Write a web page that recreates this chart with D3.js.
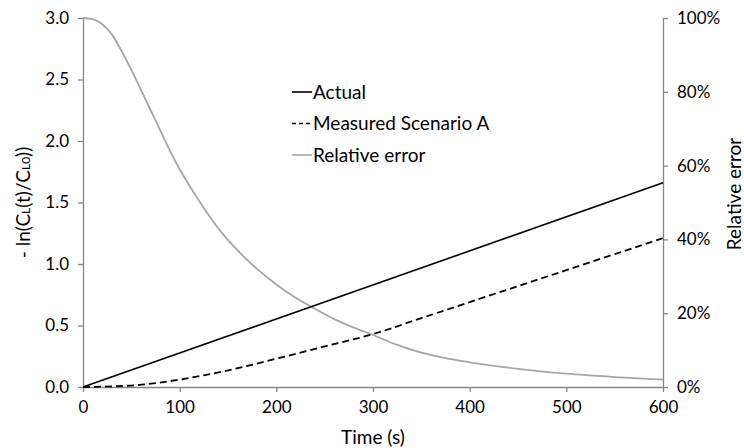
<!DOCTYPE html>
<html>
<head>
<meta charset="utf-8">
<script src="https://cdn.jsdelivr.net/npm/d3@7"></script>
<style>
  body { margin: 0; background: #fff; }
  text { font-family: Lato, "Open Sans", sans-serif; fill: #000; }
</style>
</head>
<body>
<svg id="chart" width="744" height="448"></svg>
<script>
// data
const actualTime = [0, 600];
const actualValue = [0, 1.66];

const measuredTime = [0, 50, 100, 150, 200, 250, 300, 350, 400, 450, 500, 550, 600];
const measuredValue = [0, 0.012, 0.06, 0.135, 0.23, 0.33, 0.43, 0.56, 0.69, 0.82, 0.95, 1.08, 1.21];

const errorTime = [0, 10, 20, 30, 40, 50, 60, 70, 80, 90, 100, 120, 140, 160, 180, 200, 220, 240, 260, 280, 300, 325, 350, 375, 400, 450, 500, 550, 600];
const errorValue = [100, 99.7, 98.3, 95.5, 91, 86, 80.5, 75, 69.5, 64, 59, 50.5, 43, 37, 32, 27.8, 24.2, 21.2, 18.4, 16.1, 14.1, 11.4, 9.3, 7.8, 6.7, 4.9, 3.6, 2.7, 2.0];

const xTicks = [0, 100, 200, 300, 400, 500, 600];
const yTicks = [0, 0.5, 1.0, 1.5, 2.0, 2.5, 3.0];
const y2Ticks = [0, 20, 40, 60, 80, 100];

const legendNames = ["Actual", "Measured Scenario A", "Relative error"];

const svg = d3.select("#chart");
const plotLeft = 83, plotRight = 663, plotTop = 18, plotBottom = 387;

const x = d3.scaleLinear().domain([0, 600]).range([plotLeft, plotRight]);
const y = d3.scaleLinear().domain([0, 3]).range([plotBottom, plotTop]);
const y2 = d3.scaleLinear().domain([0, 100]).range([plotBottom, plotTop]);

const axisColor = "#868686";

function styleAxis(g) {
  g.select(".domain").attr("stroke", axisColor).attr("stroke-width", 1.3);
  g.selectAll(".tick line").attr("stroke", axisColor).attr("stroke-width", 1.3);
  g.selectAll(".tick text").style("font-size", "17px").attr("fill", "#000");
}

svg.append("g")
  .attr("transform", `translate(0,${plotBottom})`)
  .call(d3.axisBottom(x).tickValues(xTicks).tickSize(5).tickSizeOuter(0).tickPadding(9))
  .call(styleAxis);

svg.append("g")
  .attr("transform", `translate(${plotLeft},0)`)
  .call(d3.axisLeft(y).tickValues(yTicks).tickFormat(d3.format(".1f")).tickSize(5).tickSizeOuter(0).tickPadding(9))
  .call(styleAxis);

svg.append("g")
  .attr("transform", `translate(${plotRight},0)`)
  .call(d3.axisRight(y2).tickValues(y2Ticks).tickFormat(d => d + "%").tickSize(5).tickSizeOuter(0).tickPadding(9))
  .call(styleAxis);

// lines
const line = d3.line().curve(d3.curveMonotoneX);

svg.append("path")
  .attr("d", line(errorTime.map((t, i) => [x(t), y2(errorValue[i])])))
  .attr("fill", "none")
  .attr("stroke", "#a6a6a6")
  .attr("stroke-width", 1.8);

svg.append("path")
  .attr("d", line(actualTime.map((t, i) => [x(t), y(actualValue[i])])))
  .attr("fill", "none")
  .attr("stroke", "#000")
  .attr("stroke-width", 1.6);

svg.append("path")
  .attr("d", line(measuredTime.map((t, i) => [x(t), y(measuredValue[i])])))
  .attr("fill", "none")
  .attr("stroke", "#000")
  .attr("stroke-width", 1.8)
  .attr("stroke-dasharray", "7,4");

// axis titles
svg.append("text")
  .attr("x", (plotLeft + plotRight) / 2)
  .attr("y", 444)
  .attr("text-anchor", "middle")
  .style("font-size", "19px")
  .text("Time (s)");

const yTitle = svg.append("text")
  .attr("transform", `translate(30,${(plotTop + plotBottom) / 2}) rotate(-90)`)
  .attr("text-anchor", "middle")
  .style("font-size", "19px");
yTitle.append("tspan").text("- ln(C");
yTitle.append("tspan").style("font-size", "12px").text("L");
yTitle.append("tspan").text("(t)/C");
yTitle.append("tspan").style("font-size", "12px").text("L0");
yTitle.append("tspan").text("))");

svg.append("text")
  .attr("transform", `translate(741,194) rotate(-90)`)
  .attr("text-anchor", "middle")
  .style("font-size", "19px")
  .text("Relative error");

// legend
const legendStyles = [
  { stroke: "#000", dash: null, width: 1.6 },
  { stroke: "#000", dash: "4,3", width: 1.6 },
  { stroke: "#a6a6a6", dash: null, width: 1.6 }
];
const legend = svg.append("g");
legendNames.forEach((name, i) => {
  const ly = 92 + i * 31.5;
  legend.append("line")
    .attr("x1", 292).attr("x2", 312)
    .attr("y1", ly).attr("y2", ly)
    .attr("stroke", legendStyles[i].stroke)
    .attr("stroke-width", legendStyles[i].width)
    .attr("stroke-dasharray", legendStyles[i].dash);
  legend.append("text")
    .attr("x", 313)
    .attr("y", ly)
    .attr("dy", "0.35em")
    .style("font-size", "19px")
    .text(name);
});
</script>
</body>
</html>
